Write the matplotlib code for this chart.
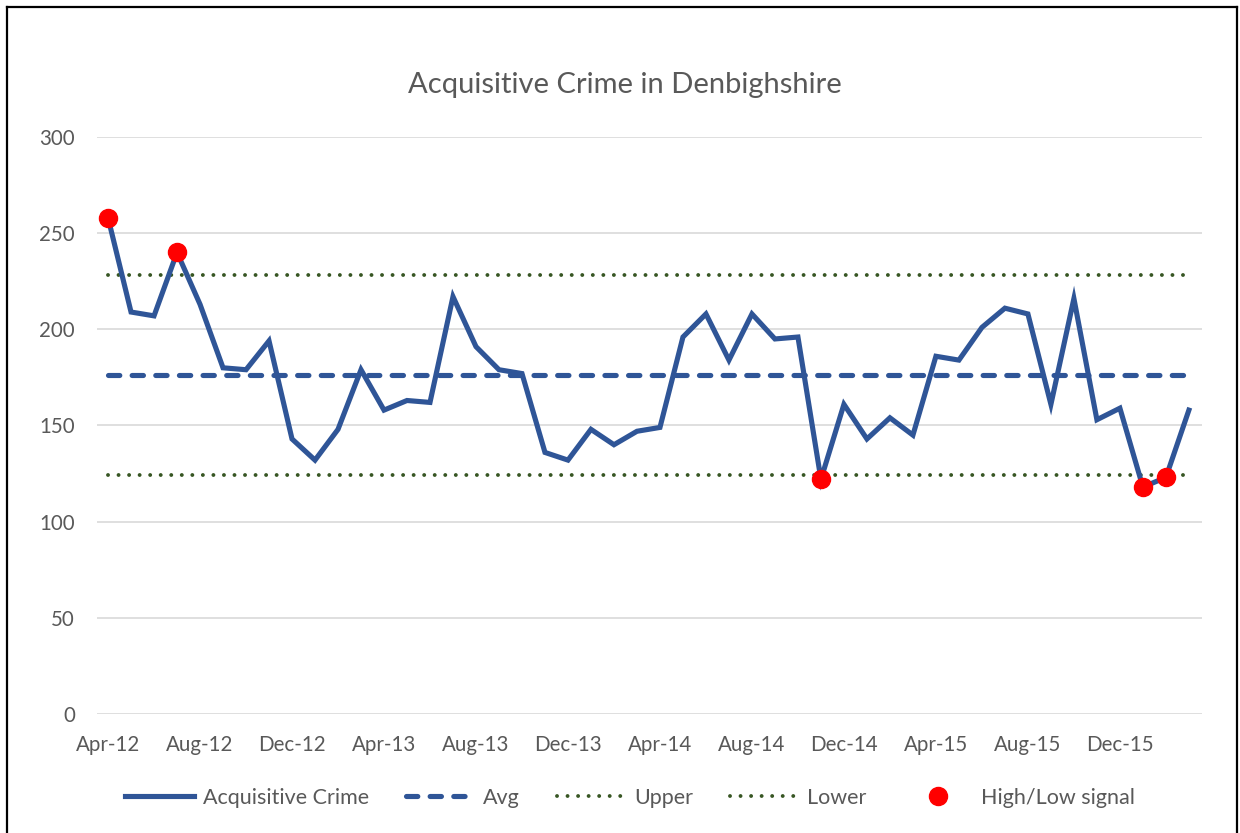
import matplotlib
matplotlib.use("Agg")
import matplotlib.pyplot as plt
from matplotlib.lines import Line2D
import numpy as np

plt.rcParams['font.family'] = ['Lato', 'DejaVu Sans']

months = ["Apr-12","May-12","Jun-12","Jul-12","Aug-12","Sep-12","Oct-12","Nov-12","Dec-12",
          "Jan-13","Feb-13","Mar-13","Apr-13","May-13","Jun-13","Jul-13","Aug-13","Sep-13","Oct-13","Nov-13","Dec-13",
          "Jan-14","Feb-14","Mar-14","Apr-14","May-14","Jun-14","Jul-14","Aug-14","Sep-14","Oct-14","Nov-14","Dec-14",
          "Jan-15","Feb-15","Mar-15","Apr-15","May-15","Jun-15","Jul-15","Aug-15","Sep-15","Oct-15","Nov-15","Dec-15",
          "Jan-16","Feb-16","Mar-16"]
crime = [258, 209, 207, 240, 213, 180, 179, 194, 143,
         132, 148, 179, 158, 163, 162, 217, 191, 179, 177, 136, 132,
         148, 140, 147, 149, 196, 208, 184, 208, 195, 196, 122, 161,
         143, 154, 145, 186, 184, 201, 211, 208, 161, 216, 153, 159,
         118, 123, 158]
avg_value = 176.3
upper_value = 228.5
lower_value = 124.2
signal_months = ["Apr-12", "Jul-12", "Nov-14", "Jan-16", "Feb-16"]
tick_labels = ["Apr-12","Aug-12","Dec-12","Apr-13","Aug-13","Dec-13",
               "Apr-14","Aug-14","Dec-14","Apr-15","Aug-15","Dec-15"]
yticks = [0, 50, 100, 150, 200, 250, 300]

W, H = 1240, 833
fig = plt.figure(figsize=(W/100, H/100), dpi=100)
ax = fig.add_axes([97/W, 1-714/H, (1202-97)/W, (714-137)/H])

x = np.arange(len(months))
blue = "#2F5597"
green = "#375623"
txt = "#595959"

ax.plot(x, crime, color=blue, lw=3.7, solid_joinstyle='miter', label="Acquisitive Crime", zorder=3)
ax.plot(x, [avg_value]*len(x), color=blue, lw=3.7, ls=(0, (2.2, 2.4)), dash_capstyle='round',
        label="Avg", zorder=2)
ax.plot(x, [upper_value]*len(x), color=green, lw=2.8, ls=(0, (0.01, 2.7)), dash_capstyle='round',
        label="Upper", zorder=2)
ax.plot(x, [lower_value]*len(x), color=green, lw=2.8, ls=(0, (0.01, 2.7)), dash_capstyle='round',
        label="Lower", zorder=2)
sx = [months.index(m) for m in signal_months]
sy = [crime[i] for i in sx]
ax.plot(sx, sy, ls='none', marker='o', ms=13, color="#FF0000", mec="#FF0000",
        label="High/Low signal", zorder=4)

ax.set_xlim(-0.48, 47.57)
ax.set_ylim(0, 300)
ax.set_yticks(yticks)
ax.set_xticks([months.index(t) for t in tick_labels])
ax.set_xticklabels(tick_labels)
ax.grid(axis='y', color="#D9D9D9", lw=1.2)
ax.set_axisbelow(True)
for s in ax.spines.values():
    s.set_visible(False)
ax.tick_params(axis='both', length=0, labelsize=14.8, labelcolor=txt)
ax.tick_params(axis='x', pad=15)
ax.tick_params(axis='y', pad=16)

fig.text(625/W, 1-85/H, "Acquisitive Crime in Denbighshire", ha='center', va='center',
         fontsize=21, color=txt)

leg = fig.legend(loc='center', bbox_to_anchor=(630/W, 1-798/H), ncol=5, frameon=False,
                 fontsize=15.5, handlelength=3.2, handletextpad=0.4, columnspacing=1.7,
                 labelcolor=txt)

# outer frame
lc = "black"
fig.add_artist(Line2D([7/W, 7/W], [0, 1-7/H], transform=fig.transFigure, color=lc, lw=1.6))
fig.add_artist(Line2D([7/W, 1237/W], [1-7/H, 1-7/H], transform=fig.transFigure, color=lc, lw=1.6))
fig.add_artist(Line2D([1237/W, 1237/W], [0, 1-7/H], transform=fig.transFigure, color=lc, lw=1.6))

fig.savefig("out.png", dpi=100, facecolor="white")
